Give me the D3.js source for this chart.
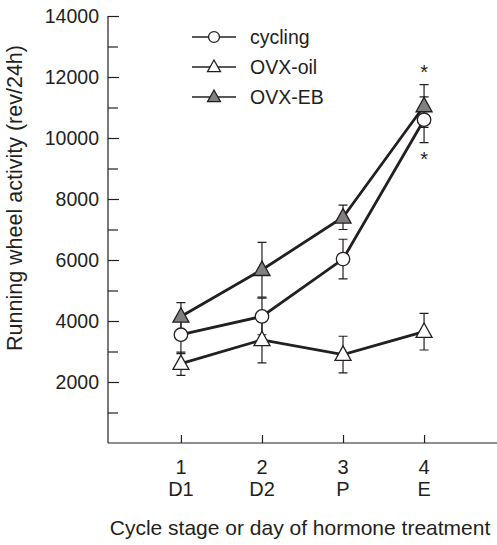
<!DOCTYPE html>
<html>
<head>
<meta charset="utf-8">
<script src="https://cdn.jsdelivr.net/npm/d3@7"></script>
<style>
  body { margin: 0; background: #fff; }
  text { font-family: "Liberation Sans", Arial, sans-serif; fill: #231f20; }
</style>
</head>
<body>
<div id="chart"></div>
<script>
// Data
const stages = [1, 2, 3, 4];
const stageLabels = ["D1", "D2", "P", "E"];
const cycling = [3550, 4150, 6030, 10600];
const cyclingErr = [620, 600, 650, 750];
const ovxOil = [2600, 3380, 2900, 3650];
const ovxOilErr = [380, 750, 600, 600];
const ovxEB = [4150, 5680, 7400, 11050];
const ovxEBErr = [450, 900, 400, 700];
const yTicks = [2000, 4000, 6000, 8000, 10000, 12000, 14000];
const yMinorTicks = [1000, 3000, 5000, 7000, 9000, 11000, 13000];

const width = 497, height = 545;
const ink = "#231f20";

const series = [
  { id: "cycling", label: "cycling", values: cycling, err: cyclingErr, shape: "circle", fill: "#fff" },
  { id: "oil", label: "OVX-oil", values: ovxOil, err: ovxOilErr, shape: "triangle", fill: "#fff" },
  { id: "eb", label: "OVX-EB", values: ovxEB, err: ovxEBErr, shape: "triangle", fill: "#808080" }
];

const svg = d3.select("#chart")
  .append("svg")
    .attr("width", width)
    .attr("height", height);

// Scales
const xScale = d3.scaleLinear()
  .domain([0.1, 4.9])
  .range([108, 497]);
const yScale = d3.scaleLinear()
  .domain([0, 14000])
  .range([443, 16]);

// Y axis: ticks point inward (right)
const leftAxis = d3.axisRight(yScale)
  .tickValues(yTicks)
  .tickSize(11)
  .tickFormat("");
svg.append("g")
    .attr("transform", `translate(108, 0)`)
    .call(leftAxis)
    .call(g => g.select(".domain").attr("d", `M0,${yScale(14000)}V${yScale(0)}`));
svg.append("g")
    .attr("transform", `translate(108, 0)`)
    .call(d3.axisRight(yScale).tickValues(yMinorTicks).tickSize(10).tickFormat(""))
    .call(g => g.select(".domain").remove());
svg.selectAll(".tick line").attr("stroke", ink).attr("stroke-width", 1.2);
svg.selectAll(".domain").attr("stroke", ink).attr("stroke-width", 1.2);

svg.append("g")
  .selectAll("text")
  .data(yTicks)
  .join("text")
    .attr("x", 99)
    .attr("y", d => yScale(d))
    .attr("dy", "0.35em")
    .attr("text-anchor", "end")
    .style("font-size", "19.5px")
    .text(d => d);

// X axis: ticks point up
const bottomAxis = d3.axisTop(xScale)
  .tickValues(stages)
  .tickSize(8)
  .tickFormat("");
svg.append("g")
    .attr("class", "axis-x")
    .attr("transform", `translate(0, ${yScale(0)})`)
    .call(bottomAxis)
    .call(g => g.select(".domain").attr("d", `M108,0H497`));
svg.selectAll(".axis-x line").attr("stroke", ink).attr("stroke-width", 1.2);
svg.selectAll(".axis-x .domain").attr("stroke", ink).attr("stroke-width", 1.2);

const xLabels = svg.append("g")
  .selectAll("g")
  .data(stages)
  .join("g");
xLabels.append("text")
    .attr("x", d => xScale(d))
    .attr("y", 474)
    .attr("text-anchor", "middle")
    .style("font-size", "20px")
    .text(d => d);
xLabels.append("text")
    .attr("x", (d, i) => xScale(d))
    .attr("y", 496)
    .attr("text-anchor", "middle")
    .style("font-size", "20px")
    .text((d, i) => stageLabels[i]);

// Axis titles
svg.append("text")
    .attr("x", 300)
    .attr("y", 535)
    .attr("text-anchor", "middle")
    .style("font-size", "21px")
    .text("Cycle stage or day of hormone treatment");
svg.append("text")
    .attr("transform", `translate(14, 198) rotate(-90)`)
    .attr("dy", "0.35em")
    .attr("text-anchor", "middle")
    .style("font-size", "21.5px")
    .text("Running wheel activity (rev/24h)");

// Marker drawing helper
const drawMarker = (sel, shape, fill, size) => {
  if (shape === "circle") {
    sel.append("circle")
        .attr("r", size * 0.42)
        .attr("fill", fill)
        .attr("stroke", ink)
        .attr("stroke-width", 1.3);
  } else {
    const h = size * 0.9, w = size;
    sel.append("path")
        .attr("d", `M0,${-h * 0.6}L${w / 2},${h * 0.4}L${-w / 2},${h * 0.4}Z`)
        .attr("fill", fill)
        .attr("stroke", ink)
        .attr("stroke-width", 1.3)
        .attr("stroke-linejoin", "miter");
  }
};

// Error bars first, lines, then markers on top
const capW = 4.5;
series.forEach(s => {
  const eb = svg.append("g").attr("class", `err ${s.id}`);
  stages.forEach((st, i) => {
    const x = xScale(st);
    const top = yScale(s.values[i] + s.err[i]);
    const bot = yScale(s.values[i] - s.err[i]);
    eb.append("path")
        .attr("d", `M${x},${top}V${bot}M${x - capW},${top}H${x + capW}M${x - capW},${bot}H${x + capW}`)
        .attr("fill", "none")
        .attr("stroke", ink)
        .attr("stroke-width", 1.2);
  });
});

const lineGenerator = d3.line()
  .x((d, i) => xScale(stages[i]))
  .y(d => yScale(d));
series.forEach(s => {
  svg.append("path")
      .attr("d", lineGenerator(s.values))
      .attr("fill", "none")
      .attr("stroke", ink)
      .attr("stroke-width", 2.8);
});

series.forEach(s => {
  svg.append("g")
    .selectAll("g")
    .data(s.values)
    .join("g")
      .attr("transform", (d, i) => `translate(${xScale(stages[i])}, ${yScale(d)})`)
      .each(function () { drawMarker(d3.select(this), s.shape, s.fill, 16); });
});

// Significance asterisks
svg.append("text")
    .attr("x", xScale(4))
    .attr("y", 79)
    .attr("text-anchor", "middle")
    .style("font-size", "20px")
    .text("*");
svg.append("text")
    .attr("x", xScale(4))
    .attr("y", 166)
    .attr("text-anchor", "middle")
    .style("font-size", "20px")
    .text("*");

// Legend
const legendY = [37, 67, 97];
const legend = svg.append("g")
  .selectAll("g")
  .data(series)
  .join("g")
    .attr("transform", (d, i) => `translate(214, ${legendY[i]})`);
legend.append("line")
    .attr("x1", -22)
    .attr("x2", 22)
    .attr("stroke", ink)
    .attr("stroke-width", 1.5);
legend.each(function (d) { drawMarker(d3.select(this), d.shape, d.fill, 13); });
legend.append("text")
    .attr("x", 36)
    .attr("dy", "0.35em")
    .style("font-size", "19.5px")
    .text(d => d.label);
</script>
</body>
</html>
